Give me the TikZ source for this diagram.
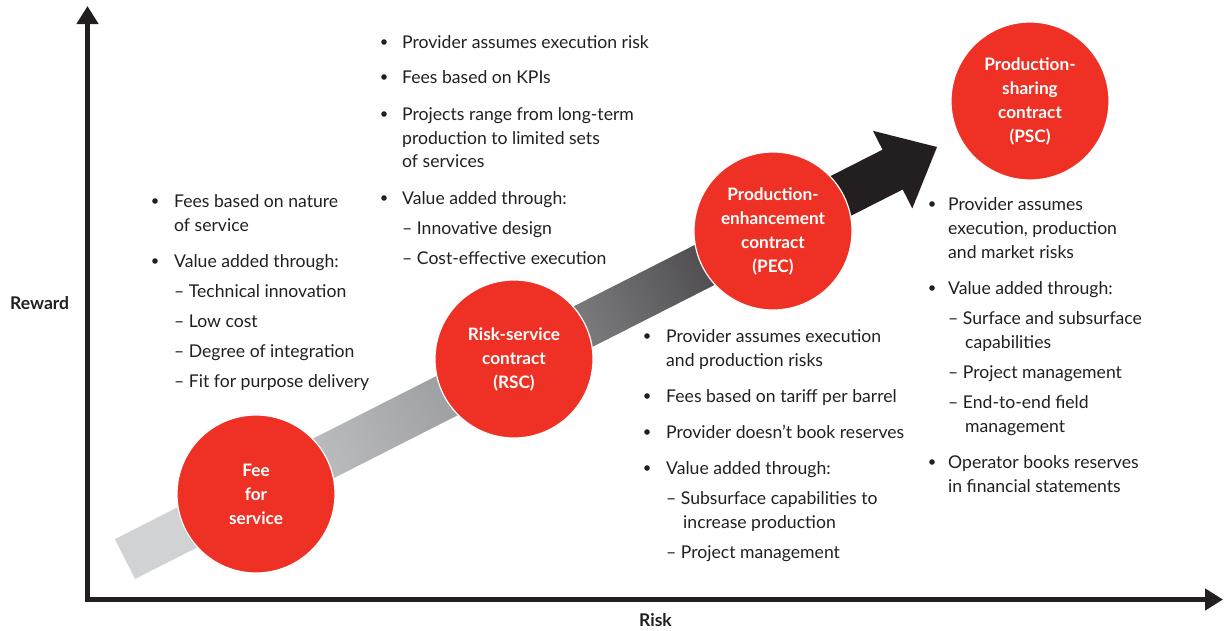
\documentclass[tikz,border=0pt]{standalone}
\usepackage{fontspec}
\setmainfont{Lato}
\usetikzlibrary{arrows.meta}
\definecolor{ink}{HTML}{231F20}
\definecolor{cred}{HTML}{EE3124}
\definecolor{gLight}{HTML}{D1D2D4}
\definecolor{gMid}{HTML}{8E8F92}
\newcommand{\tline}[4]{\node[body] (#1) at (#2,#3) {#4};}
\newcommand{\tbul}[3]{\node[bul] (#1) at (#2,#3-6) {};}
\tikzset{
  body/.style={anchor=base west, inner sep=0pt, text=ink, font=\fontsize{17.6}{20}\selectfont},
  bul/.style={circle, fill=ink, inner sep=0pt, minimum size=5.6pt},
  axis/.style={draw=ink, line width=5pt, line join=miter},
  contract/.style={circle, fill=cred, draw=white, line width=1.2pt, minimum size=158pt, inner sep=0pt,
     text=white, align=center, font=\fontsize{17.2}{24}\selectfont\bfseries},
  axlabel/.style={inner sep=0pt, text=ink, font=\fontsize{17.5}{20}\selectfont\bfseries},
}
\begin{document}
\begin{tikzpicture}[x=1pt,y=-1pt]
\useasboundingbox (0,0) rectangle (1225,630);
% axes
\coordinate (ytip) at (87.5,6);
\coordinate (orig) at (87.5,599.5);
\coordinate (xtip) at (1223,599.5);
\draw[axis, {Triangle[width=21pt,length=18pt]}-{Triangle[width=21pt,length=18pt]}] (ytip) -- (orig) -- (xtip);
\node[axlabel, anchor=base west] (reward) at (10,309) {Reward};
\node[axlabel, anchor=base] (risk) at (655.5,626) {Risk};
% band arrow
\shade[left color=gLight, right color=ink, middle color=gMid, shading angle=116.9]
  (114.9,539.1) -- (882.5,149.7) -- (872.9,130.8) -- (937,147) -- (912.3,208.4) -- (902.7,189.5) -- (135.1,578.9) -- cycle;
% circles
\node[contract] (fee) at (256,494) {Fee\\for\\service};
\node[contract] (rsc) at (514,359) {Risk-service\\contract\\(RSC)};
\node[contract] (pec) at (773,231) {Production-\\enhancement\\contract\\(PEC)};
\node[contract] (psc) at (1030,101) {Production-\\sharing\\contract\\(PSC)};
% block A
\tbul{bA1}{155}{207}
\tline{tA1}{174}{207}{Fees based on nature}
\tline{tA2}{174}{231}{of service}
\tbul{bA2}{155}{267}
\tline{tA3}{174}{267}{Value added through:}
\tline{tA4}{174}{297}{– Technical innovation}
\tline{tA5}{174}{327}{– Low cost}
\tline{tA6}{174}{357}{– Degree of integration}
\tline{tA7}{174}{387}{– Fit for purpose delivery}
% block B
\tbul{bB1}{384}{48}
\tline{tB1}{402}{48}{Provider assumes execution risk}
\tbul{bB2}{384}{83}
\tline{tB2}{402}{83}{Fees based on KPIs}
\tbul{bB3}{384}{120}
\tline{tB3}{402}{120}{Projects range from long-term}
\tline{tB4}{402}{144}{production to limited sets}
\tline{tB5}{402}{167}{of services}
\tbul{bB4}{384}{204}
\tline{tB6}{402}{204}{Value added through:}
\tline{tB7}{402}{234}{– Innovative design}
\tline{tB8}{402}{264}{– Cost-effective execution}
% block C
\tbul{bC1}{647}{342}
\tline{tC1}{666}{342}{Provider assumes execution}
\tline{tC2}{666}{366}{and production risks}
\tbul{bC2}{647}{402}
\tline{tC3}{666}{402}{Fees based on tariff per barrel}
\tbul{bC3}{647}{438}
\tline{tC4}{666}{438}{Provider doesn’t book reserves}
\tbul{bC4}{647}{474}
\tline{tC5}{666}{474}{Value added through:}
\tline{tC6}{666}{504}{– Subsurface capabilities to}
\tline{tC7}{683}{528}{increase production}
\tline{tC8}{666}{558}{– Project management}
% block D
\tbul{bD1}{932}{210}
\tline{tD1}{948}{210}{Provider assumes}
\tline{tD2}{948}{234}{execution, production}
\tline{tD3}{948}{258}{and market risks}
\tbul{bD2}{932}{294}
\tline{tD4}{948}{294}{Value added through:}
\tline{tD5}{948}{324}{– Surface and subsurface}
\tline{tD6}{965}{348}{capabilities}
\tline{tD7}{948}{378}{– Project management}
\tline{tD8}{948}{408}{– End-to-end field}
\tline{tD9}{965}{432}{management}
\tbul{bD3}{932}{468}
\tline{tD10}{948}{468}{Operator books reserves}
\tline{tD11}{948}{492}{in financial statements}
\end{tikzpicture}
\end{document}
